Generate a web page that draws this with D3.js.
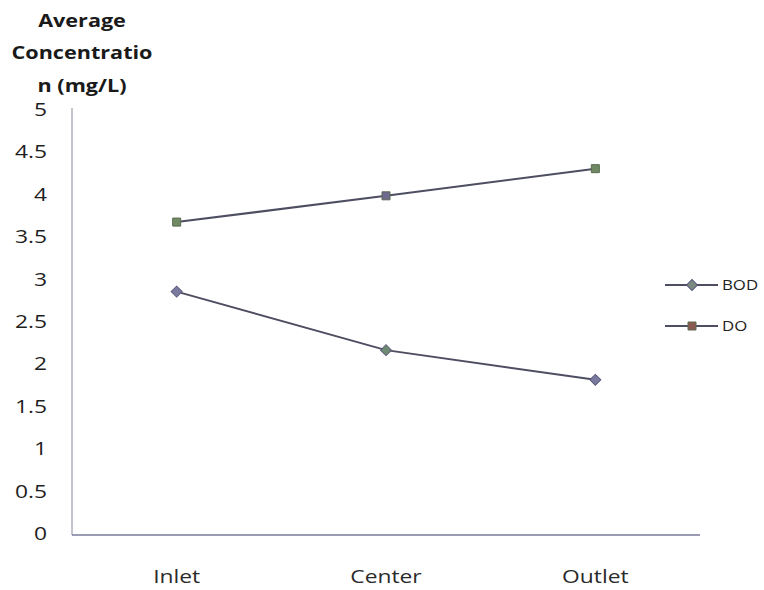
<!DOCTYPE html>
<html><head><meta charset="utf-8">
<script src="https://cdn.jsdelivr.net/npm/d3@7"></script>
<style>body{margin:0;background:#fff}svg{display:block}</style>
</head><body>
<svg id="c" width="764" height="590"></svg>
<script>
const categories = ["Inlet", "Center", "Outlet"];
const bodValues = [2.87, 2.18, 1.83];
const doValues = [3.69, 4.0, 4.32];
const yTicks = [0, 0.5, 1, 1.5, 2, 2.5, 3, 3.5, 4, 4.5, 5];
const titleLines = ["Average", "Concentratio", "n (mg/L)"];
const seriesNames = ["BOD", "DO"];

(function () {
const svg = d3.select("#c");
const font = "'Open Sans', sans-serif";
const sx = 1.2;
const mLeft = 72, mRight = 700, mTop = 111, mBottom = 535;

const x = d3.scalePoint().domain(categories).range([mLeft, mRight]).padding(0.5);
const y = d3.scaleLinear().domain([0, 5]).range([mBottom, mTop]);

function stretchedText(g, tx, ty, txt, anchor, size, weight, fill) {
  g.append("g").attr("transform", `translate(${tx},${ty}) scale(${sx},1)`)
    .append("text").attr("text-anchor", anchor).attr("dominant-baseline", "middle")
    .attr("font-family", font).attr("font-size", size).attr("font-weight", weight || "normal")
    .attr("fill", fill || "#222").text(txt);
}

svg.append("line").attr("x1", mLeft).attr("x2", mLeft).attr("y1", y(5) - 3).attr("y2", mBottom)
  .attr("stroke", "#8a8a9a").attr("stroke-width", 1);
svg.append("line").attr("x1", mLeft).attr("x2", mRight).attr("y1", mBottom).attr("y2", mBottom)
  .attr("stroke", "#7a7a9a").attr("stroke-width", 1.5);

const yl = svg.append("g");
yTicks.forEach(t => stretchedText(yl, 47, y(t), String(t), "end", 19, "normal", "#1e1e1e"));

const xl = svg.append("g");
categories.forEach(c => stretchedText(xl, x(c), 578, c, "middle", 19, "normal", "#2a2a2a"));

const tl = svg.append("g");
const titleX = [82, 82, 82];
const titleY = [22, 54, 87];
titleLines.forEach((t, i) => stretchedText(tl, titleX[i], titleY[i], t, "middle", 18, "bold", "#1a1a1a"));

const lineGen = d3.line().x((d, i) => x(categories[i])).y(d => y(d));
const lineColor = "#4e4e62";

svg.append("path").datum(doValues).attr("d", lineGen).attr("fill", "none")
  .attr("stroke", lineColor).attr("stroke-width", 2);
svg.append("path").datum(bodValues).attr("d", lineGen).attr("fill", "none")
  .attr("stroke", lineColor).attr("stroke-width", 2);

function drawDiamond(g, cx, cy, fill) {
  g.append("path").attr("d", d3.symbol().type(d3.symbolSquare).size(60)())
    .attr("transform", `translate(${cx},${cy}) rotate(45)`)
    .attr("fill", fill).attr("stroke", "#5a5a7a").attr("stroke-width", 1);
}
function drawSquare(g, cx, cy, fill) {
  g.append("path").attr("d", d3.symbol().type(d3.symbolSquare).size(64)())
    .attr("transform", `translate(${cx},${cy})`)
    .attr("fill", fill).attr("stroke", "#5a6a50").attr("stroke-width", 1);
}

const marks = svg.append("g");
const bodFill = ["#7a7aa0", "#6f8a72", "#7a7aa0"];
const doFill = ["#6f8a62", "#706a90", "#6f8a62"];
bodValues.forEach((v, i) => drawDiamond(marks, x(categories[i]), y(v), bodFill[i]));
doValues.forEach((v, i) => drawSquare(marks, x(categories[i]), y(v), doFill[i]));

const lg = svg.append("g");
const legY = [285, 326];
seriesNames.forEach((n, i) => {
  lg.append("line").attr("x1", 665).attr("x2", 718).attr("y1", legY[i]).attr("y2", legY[i])
    .attr("stroke", lineColor).attr("stroke-width", 2);
  if (i === 0) drawDiamond(lg, 692, legY[i], "#7a8a80");
  else drawSquare(lg, 692, legY[i], "#8a5a50");
  stretchedText(lg, 722, legY[i] + 1, n, "start", 14, "normal", "#222");
});
})();
</script>
</body></html>
